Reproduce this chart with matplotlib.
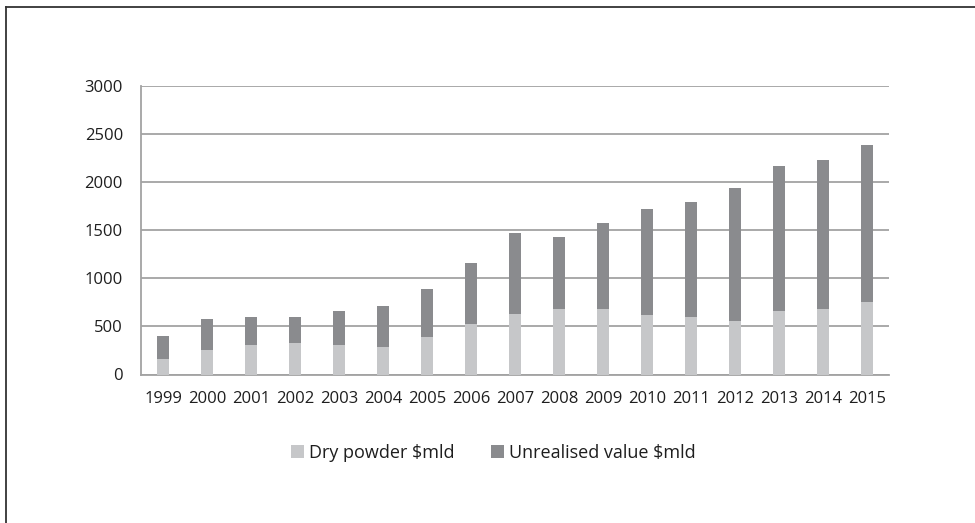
import matplotlib
matplotlib.use("Agg")
import matplotlib.pyplot as plt
from matplotlib.lines import Line2D
from matplotlib.patches import Patch
import numpy as np

years = ["1999", "2000", "2001", "2002", "2003", "2004", "2005", "2006", "2007",
         "2008", "2009", "2010", "2011", "2012", "2013", "2014", "2015"]
dry_powder = [163, 253, 308, 326, 308, 291, 388, 527, 631,
              683, 676, 617, 596, 561, 658, 686, 752]
unrealised = [239, 322, 285, 274, 354, 419, 496, 637, 842,
              745, 904, 1105, 1199, 1379, 1511, 1549, 1639]
y_ticks = [0, 500, 1000, 1500, 2000, 2500, 3000]

DRY_COLOR = "#c6c7c9"
UNREAL_COLOR = "#8a8b8e"
GRID_COLOR = "#a3a3a3"
TEXT_COLOR = "#1e1e1e"

plt.rcParams["font.family"] = ["Open Sans", "DejaVu Sans"]

W, H = 975, 523
fig = plt.figure(figsize=(W / 100, H / 100), dpi=100)

# plot area in pixel coordinates
x0, x1, ytop, ybot = 141, 889, 86, 374.5
ax = fig.add_axes([x0 / W, 1 - ybot / H, (x1 - x0) / W, (ybot - ytop) / H])

x = np.arange(len(years))
bw = 0.27
ax.bar(x, dry_powder, width=bw, color=DRY_COLOR, zorder=3,
       label="Dry powder $mld")
ax.bar(x, unrealised, width=bw, bottom=dry_powder, color=UNREAL_COLOR,
       zorder=3, label="Unrealised value $mld")

ax.set_xlim(-0.5, len(years) - 0.5)
ax.set_ylim(0, 3000)
ax.set_yticks(y_ticks)
ax.set_yticklabels([str(v) for v in y_ticks])
ax.set_xticks(x)
ax.set_xticklabels(years)
ax.yaxis.grid(True, color=GRID_COLOR, linewidth=1.3, zorder=0)
ax.set_axisbelow(True)
for side in ("top", "right"):
    ax.spines[side].set_visible(False)
for side in ("left", "bottom"):
    ax.spines[side].set_color(GRID_COLOR)
    ax.spines[side].set_linewidth(1.3)
ax.tick_params(axis="both", length=0, labelsize=12, colors=TEXT_COLOR)
ax.tick_params(axis="y", pad=13)
ax.tick_params(axis="x", pad=12)

handles = [Patch(facecolor=DRY_COLOR, edgecolor="none"),
           Patch(facecolor=UNREAL_COLOR, edgecolor="none")]
fig.legend(handles, ["Dry powder $mld", "Unrealised value $mld"],
           loc="center", bbox_to_anchor=(493.5 / W, 1 - 453 / H),
           ncol=2, frameon=False, fontsize=13, handlelength=0.72,
           handleheight=0.72, handletextpad=0.3, columnspacing=2.0,
           labelcolor=TEXT_COLOR)

# outer frame on the left and top edges
fig.add_artist(Line2D([6 / W, 6 / W], [0, 1 - 6.5 / H], color="#333333",
                      linewidth=1.3, transform=fig.transFigure))
fig.add_artist(Line2D([6 / W, 1], [1 - 6.5 / H, 1 - 6.5 / H], color="#333333",
                      linewidth=1.3, transform=fig.transFigure))

fig.savefig("out.png", dpi=100, facecolor="white")
